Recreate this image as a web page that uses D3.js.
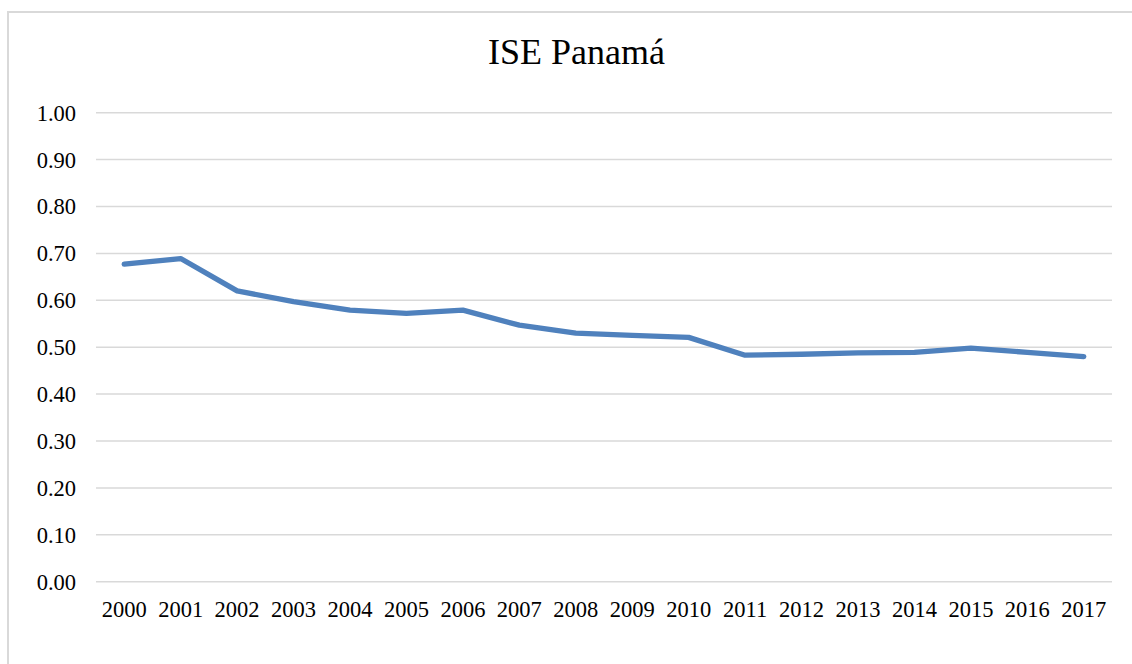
<!DOCTYPE html>
<html>
<head>
<meta charset="utf-8">
<script src="https://cdn.jsdelivr.net/npm/d3@7"></script>
<style>
  html, body { margin: 0; padding: 0; background: #fff; }
  svg { display: block; }
  svg text { font-family: "Liberation Serif", "Times New Roman", serif !important; fill: #000; }
</style>
</head>
<body>
<svg id="chart" width="1132" height="664"></svg>
<script>
// Yearly ISE index for Panamá
const years = ["2000","2001","2002","2003","2004","2005","2006","2007","2008",
               "2009","2010","2011","2012","2013","2014","2015","2016","2017"];
const iseValues = [0.677, 0.689, 0.620, 0.597, 0.579, 0.572, 0.579, 0.547, 0.530,
                   0.525, 0.521, 0.483, 0.485, 0.488, 0.489, 0.498, 0.489, 0.480];
const yTicks = [0, 0.1, 0.2, 0.3, 0.4, 0.5, 0.6, 0.7, 0.8, 0.9, 1.0];
const chartTitle = "ISE Panamá";

const serif = "'Liberation Serif', 'Times New Roman', serif";
const svg = d3.select("#chart");
const W = 1132, H = 664;
const plot = { left: 96, right: 1112, top: 112.7, bottom: 581.7 };

// chart area frame
svg.append("rect")
  .attr("x", 8).attr("y", 12)
  .attr("width", W + 10).attr("height", H + 10)
  .attr("fill", "#fff")
  .attr("stroke", "#d9d9d9")
  .attr("stroke-width", 2);

const x = d3.scaleBand().domain(years).range([plot.left, plot.right]);
const y = d3.scaleLinear().domain([0, 1]).range([plot.bottom, plot.top]);

// horizontal gridlines
svg.append("g")
  .selectAll("line")
  .data(yTicks)
  .join("line")
  .attr("x1", plot.left).attr("x2", plot.right)
  .attr("y1", d => y(d)).attr("y2", d => y(d))
  .attr("stroke", "#d9d9d9")
  .attr("stroke-width", 1.5);

// y-axis labels
const yAxis = d3.axisLeft(y).tickValues(yTicks).tickFormat(d3.format(".2f")).tickSize(0).tickPadding(0);
const gy = svg.append("g").attr("transform", "translate(76,0)").call(yAxis)
  .attr("font-family", null).attr("font-size", null);
gy.select(".domain").remove();
gy.selectAll("text")
  .style("font-family", serif)
  .style("font-size", "22.5px")
  .attr("fill", "#000")
  .attr("dy", "0.33em");

// x-axis labels
const xAxis = d3.axisBottom(x).tickSize(0).tickPadding(0);
const gx = svg.append("g").attr("transform", `translate(0,${plot.bottom})`).call(xAxis)
  .attr("font-family", null).attr("font-size", null);
gx.select(".domain").remove();
gx.selectAll("text")
  .style("font-family", serif)
  .style("font-size", "22.5px")
  .attr("fill", "#000")
  .attr("dy", "0")
  .attr("y", 35.6);

// series line
const line = d3.line()
  .x((d, i) => x(years[i]) + x.bandwidth() / 2)
  .y(d => y(d));

svg.append("path")
  .datum(iseValues)
  .attr("d", line)
  .attr("fill", "none")
  .attr("stroke", "#4f81bd")
  .attr("stroke-width", 5.3)
  .attr("stroke-linejoin", "round")
  .attr("stroke-linecap", "round");

// title
svg.append("text")
  .attr("x", 576.5).attr("y", 64.3)
  .attr("text-anchor", "middle")
  .style("font-family", serif)
  .style("font-size", "36px")
  .text(chartTitle);
</script>
</body>
</html>
